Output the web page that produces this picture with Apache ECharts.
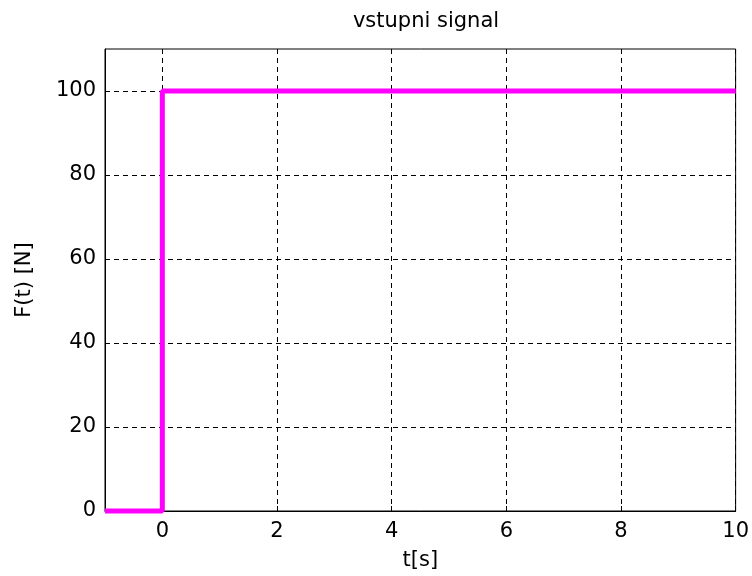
<!DOCTYPE html>
<html>
<head>
<meta charset="utf-8">
<script src="https://cdn.jsdelivr.net/npm/echarts@6/dist/echarts.min.js"></script>
<style>
  html, body { margin: 0; padding: 0; background: #fff; }
  #main { width: 752px; height: 576px; }
</style>
</head>
<body>
<div id="main"></div>
<script>
// step input: force jumps from 0 to 100 N at t = 0
var timePoints = [-1, 0, 0, 10];
var forceValues = [0, 0, 100, 100];
var xTicks = [0, 2, 4, 6, 8, 10];
var yTicks = [0, 20, 40, 60, 80, 100];

var seriesData = timePoints.map(function (t, i) { return [t, forceValues[i]]; });

var font = 'DejaVu Sans, Liberation Sans, sans-serif';
var dashed = { type: [5, 4], color: '#000', width: 1 };

var myChart = echarts.init(document.getElementById('main'));
myChart.setOption({
  animation: false,
  backgroundColor: '#fff',
  title: {
    text: 'vstupni signal',
    left: 421, top: 6, textAlign: 'center',
    textStyle: { fontFamily: font, fontSize: 21, fontWeight: 'normal', color: '#000' }
  },
  grid: {
    left: 105, right: 14, top: 49, bottom: 64,
    show: true, borderColor: '#000', borderWidth: 1
  },
  xAxis: {
    type: 'value', min: -1, max: 10,
    name: 't[s]', nameLocation: 'middle', nameGap: 39,
    nameTextStyle: { fontFamily: font, fontSize: 21, color: '#000' },
    axisLine: { show: true, onZero: false, lineStyle: { color: '#000' } },
    axisTick: { show: true, inside: true, length: 5, customValues: xTicks, lineStyle: { color: '#000' } },
    axisLabel: { customValues: xTicks, margin: 10, fontFamily: font, fontSize: 21, color: '#000' },
    splitLine: { show: true, lineStyle: dashed }
  },
  yAxis: {
    type: 'value', min: 0, max: 110,
    name: 'F(t) [N]', nameLocation: 'middle', nameGap: 70,
    nameTextStyle: { fontFamily: font, fontSize: 21, color: '#000' },
    axisLine: { show: true, onZero: false, lineStyle: { color: '#000' } },
    axisTick: { show: true, inside: true, length: 5, customValues: yTicks, lineStyle: { color: '#000' } },
    axisLabel: { customValues: yTicks, margin: 9, fontFamily: font, fontSize: 21, color: '#000' },
    splitLine: { show: true, lineStyle: dashed }
  },
  series: [{
    type: 'line',
    data: seriesData,
    symbol: 'none',
    lineStyle: { color: '#ff00ff', width: 5 },
    clip: false
  }]
});
</script>
</body>
</html>
